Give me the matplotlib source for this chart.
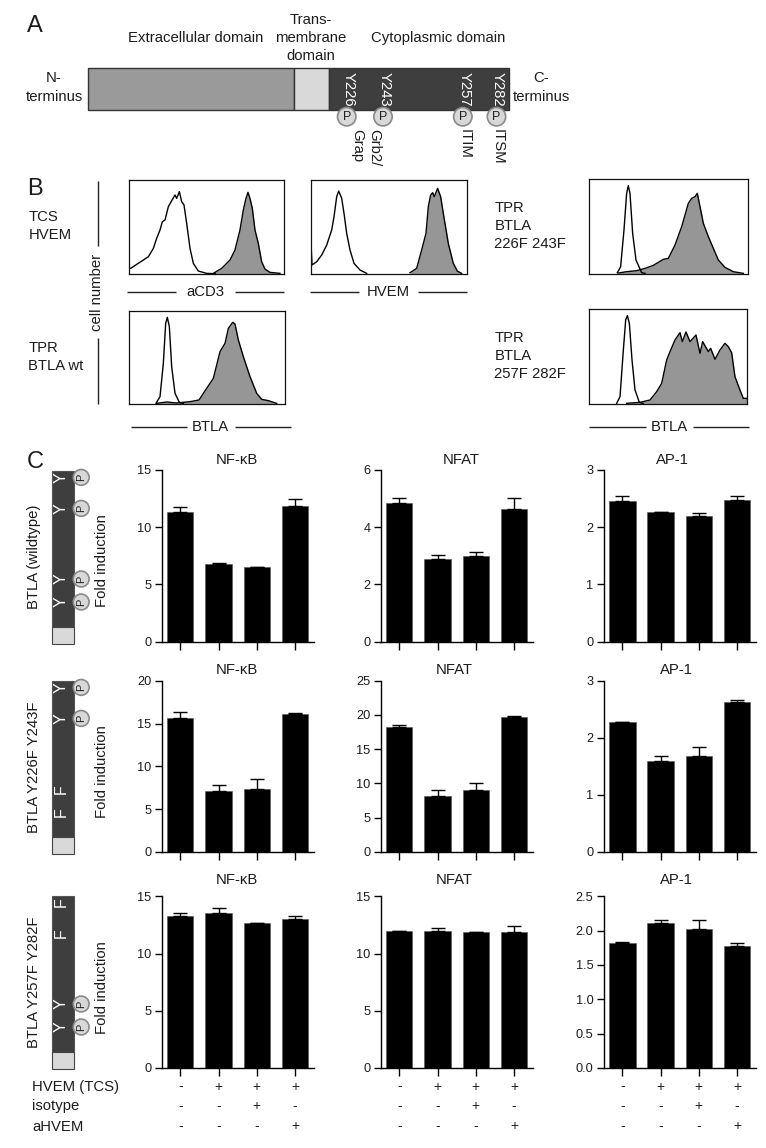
import numpy as np
import matplotlib
matplotlib.use("Agg")
import matplotlib.pyplot as plt
from matplotlib.patches import Rectangle, Circle

plt.rcParams['font.family'] = ['Liberation Sans', 'DejaVu Sans']
TXT = '#1c1c1c'
W, H = 766, 1148

# ---------- bar data ----------
nfkb_wt = [11.35, 6.75, 6.5, 11.85];   nfkb_wt_err = [0.45, 0.1, 0.05, 0.65]
nfat_wt = [4.83, 2.9, 3.0, 4.62];      nfat_wt_err = [0.19, 0.12, 0.13, 0.41]
ap1_wt = [2.45, 2.26, 2.19, 2.47];     ap1_wt_err = [0.09, 0.01, 0.06, 0.07]
nfkb_yy = [15.7, 7.1, 7.35, 16.15];    nfkb_yy_err = [0.6, 0.7, 1.15, 0.05]
nfat_yy = [18.2, 8.1, 9.0, 19.7];      nfat_yy_err = [0.3, 0.9, 1.1, 0.15]
ap1_yy = [2.28, 1.6, 1.69, 2.63];      ap1_yy_err = [0.0, 0.08, 0.15, 0.03]
nfkb_ff = [13.3, 13.5, 12.65, 13.0];   nfkb_ff_err = [0.2, 0.45, 0.05, 0.3]
nfat_ff = [11.95, 11.95, 11.85, 11.85]; nfat_ff_err = [0.02, 0.25, 0.05, 0.55]
ap1_ff = [1.82, 2.11, 2.03, 1.77];     ap1_ff_err = [0.01, 0.05, 0.12, 0.05]

hvem_tcs = ['-', '+', '+', '+']
isotype = ['-', '-', '+', '-']
ahvem = ['-', '-', '-', '+']

# ---------- histogram data (channel, count) ----------
h1_open = [(1,110),(2,16),(6,16),(24,28),(44,41),(59,51),(74,76),(84,106),(94,131),(101,156),(109,161),(119,201),(129,219),(139,236),(144,226),(152,246),(159,216),(166,206),(174,151),(184,76),(194,31),(209,8),(234,1),(260,0)]
h1_fill = [(254,1),(279,16),(304,41),(319,71),(334,131),(344,191),(352,226),(358,244),(364,226),(371,196),(379,131),(389,91),(399,36),(409,14),(424,4),(454,1)]
h2_open = [(1,90),(4,26),(18,36),(33,56),(48,86),(63,131),(70,171),(78,231),(84,248),(93,226),(100,181),(108,121),(118,71),(130,31),(148,11),(168,1)]
h2_fill = [(298,3),(318,16),(333,71),(346,121),(353,201),(360,236),(366,243),(371,231),(381,256),(390,231),(398,181),(413,91),(428,31),(440,8),(453,1)]
h3_open = [(81,2),(93,22),(103,122),(110,242),(115,260),(121,232),(128,112),(138,32),(151,5),(163,1)]
h3_fill = [(83,2),(113,6),(143,3),(183,7),(210,12),(223,32),(253,77),(273,157),(288,182),(298,227),(311,245),(318,240),(328,192),(343,142),(363,82),(383,32),(398,14),(418,10),(443,2)]
h4_open = [(84,3),(94,21),(104,131),(112,241),(117,264),(122,241),(130,121),(140,41),(157,3),(167,1)]
h4_fill = [(87,2),(112,6),(142,9),(167,16),(192,25),(222,43),(237,46),(257,86),(277,141),(297,211),(307,226),(317,231),(324,241),(332,201),(342,151),(357,111),(372,76),(387,41),(407,19),(432,6),(462,1)]
h5_open = [(84,2),(94,22),(104,162),(111,252),(116,265),(122,242),(130,132),(139,42),(152,5),(164,1)]
h5_fill = [(114,2),(154,5),(184,12),(204,37),(219,62),(234,132),(244,157),(259,192),(274,214),(281,187),(292,216),(304,187),(322,207),(334,152),(342,187),(359,157),(366,167),(379,134),(394,162),(409,182),(419,172),(429,154),(439,82),(454,42),(464,17),(474,17)]

fig = plt.figure(figsize=(W / 100, H / 100), dpi=100, facecolor='white')


def px_axes(x0, x1, y0, y1):
    """Axes with pixel box: x0..x1, top y0 .. bottom y1."""
    return fig.add_axes([x0 / W, 1 - y1 / H, (x1 - x0) / W, (y1 - y0) / H])


# ---------- histograms ----------
def hist(box, xmax, ymax, opened, filled):
    ax = px_axes(*box)
    fx, fy = np.array(filled).T
    ox, oy = np.array(opened).T
    ax.fill_between(fx, fy, 0, color='#969696', lw=0)
    ax.plot(fx, fy, color='black', lw=1.0)
    ax.plot(ox, oy, color='black', lw=1.0)
    ax.set_xlim(0, xmax)
    ax.set_ylim(0, ymax)
    ax.set_xticks([])
    ax.set_yticks([])
    for s in ax.spines.values():
        s.set_linewidth(0.9)
        s.set_color('#111111')


hist((128.7, 284.3, 180, 273.7), 467, 281, h1_open, h1_fill)
hist((310.7, 467.3, 180, 273.7), 470, 281, h2_open, h2_fill)
hist((129, 284.7, 311, 404), 467, 279, h3_open, h3_fill)
hist((589.3, 747.7, 179, 273.7), 475, 284, h4_open, h4_fill)
hist((588.7, 747.3, 309.3, 404), 476, 284, h5_open, h5_fill)

# ---------- bars ----------
rows = [(470, 641.7), (680.7, 852), (896.3, 1068)]
cols = [161.7, 380.7, 603.8]
tick_sets = {
    (0, 0): ([0, 5, 10, 15], ['0', '5', '10', '15']),
    (0, 1): ([0, 2, 4, 6], ['0', '2', '4', '6']),
    (0, 2): ([0, 1, 2, 3], ['0', '1', '2', '3']),
    (1, 0): ([0, 5, 10, 15, 20], ['0', '5', '10', '15', '20']),
    (1, 1): ([0, 5, 10, 15, 20, 25], ['0', '5', '10', '15', '20', '25']),
    (1, 2): ([0, 1, 2, 3], ['0', '1', '2', '3']),
    (2, 0): ([0, 5, 10, 15], ['0', '5', '10', '15']),
    (2, 1): ([0, 5, 10, 15], ['0', '5', '10', '15']),
    (2, 2): ([0, 0.5, 1, 1.5, 2, 2.5], ['0.0', '0.5', '1.0', '1.5', '2.0', '2.5']),
}
series = {
    (0, 0): (nfkb_wt, nfkb_wt_err), (0, 1): (nfat_wt, nfat_wt_err), (0, 2): (ap1_wt, ap1_wt_err),
    (1, 0): (nfkb_yy, nfkb_yy_err), (1, 1): (nfat_yy, nfat_yy_err), (1, 2): (ap1_yy, ap1_yy_err),
    (2, 0): (nfkb_ff, nfkb_ff_err), (2, 1): (nfat_ff, nfat_ff_err), (2, 2): (ap1_ff, ap1_ff_err),
}
positions = [0, 1, 2, 3]
for (r, c), (vals, errs) in series.items():
    top, bot = rows[r]
    ax = px_axes(cols[c], cols[c] + 151.8, top, bot)
    ax.patch.set_alpha(0)
    ax.bar(positions, vals, width=0.69, color='black', edgecolor='#555555', linewidth=0.4)
    ax.errorbar(positions, vals, yerr=[[0] * 4, errs], fmt='none', ecolor='black',
                elinewidth=1.0, capsize=4.8, capthick=1.0)
    ticks, labels = tick_sets[(r, c)]
    ax.set_xlim(-0.487, 3.487)
    ax.set_ylim(0, ticks[-1])
    ax.set_yticks(ticks)
    ax.set_yticklabels(labels, fontsize=9.2, color=TXT)
    ax.set_xticks(positions)
    ax.set_xticklabels([])
    ax.tick_params(axis='both', length=5.4, width=1.0, color='black', pad=2)
    for s in ('top', 'right'):
        ax.spines[s].set_visible(False)
    for s in ('left', 'bottom'):
        ax.spines[s].set_linewidth(1.0)

# ---------- overlay in pixel coordinates ----------
ov = fig.add_axes([0, 0, 1, 1], zorder=10)
ov.set_xlim(0, W)
ov.set_ylim(H, 0)
ov.axis('off')


def T(x, y, s, size=10.7, ha='center', va='center', rot=0, color=TXT):
    ov.text(x, y, s, fontsize=size, ha=ha, va=va, rotation=rot, color=color)


def L(x0, y0, x1, y1, lw=1.0, color='#222222'):
    ov.plot([x0, x1], [y0, y1], color=color, lw=lw, solid_capstyle='butt')


def pbubble(x, y, r, rot, size):
    ov.add_patch(Circle((x, y), r, fc='#d8d8d8', ec='#8a8a8a', lw=1.2, zorder=4))
    ov.text(x, y, 'P', fontsize=size, ha='center', va='center', rotation=rot, color='#222222', zorder=5)


# panel A
ov.add_patch(Rectangle((88, 67.5), 206.3, 42, fc='#9a9a9a', ec='#333333', lw=1.0))
ov.add_patch(Rectangle((294.3, 67.5), 34.2, 42, fc='#d9d9d9', ec='#333333', lw=1.0))
ov.add_patch(Rectangle((328.5, 67.5), 180, 42, fc='#3e3e3e', ec='#333333', lw=1.0))
T(27, 26, 'A', 17, ha='left')
T(195.5, 38.3, 'Extracellular domain')
T(311, 20.5, 'Trans-')
T(311, 38, 'membrane')
T(311, 56, 'domain')
T(438.5, 38.3, 'Cytoplasmic domain')
T(54, 78.5, 'N-')
T(54, 97, 'terminus')
T(541, 78.5, 'C-')
T(541, 97, 'terminus')
for x, s in [(348.7, 'Y226'), (384.3, 'Y243'), (464.3, 'Y257'), (498, 'Y282')]:
    T(x, 89, s, 10.7, rot=270, color='white')
for x in (346.7, 383, 462.8, 496.5):
    pbubble(x, 116.7, 9.2, 0, 9)
T(357.5, 129, 'Grap', va='top', rot=270)
T(374.5, 129, 'Grb2/', va='top', rot=270)
T(464.3, 129, 'ITIM', va='top', rot=270)
T(497.3, 129, 'ITSM', va='top', rot=270)

# panel B
T(27, 189, 'B', 17, ha='left')
T(28.3, 217, 'TCS', ha='left')
T(28.3, 235, 'HVEM', ha='left')
T(28.3, 348, 'TPR', ha='left')
T(28.3, 366, 'BTLA wt', ha='left')
L(98.3, 181, 98.3, 246)
L(98.3, 338, 98.3, 404)
T(97.3, 292.5, 'cell number', rot=90)
L(127, 292.3, 176, 292.3)
T(205.3, 292.3, 'aCD3')
L(234.7, 292.3, 284, 292.3)
L(310.3, 292.3, 359.3, 292.3)
T(388.7, 292.3, 'HVEM')
L(418, 292.3, 467.3, 292.3)
L(131, 427.3, 186.7, 427.3)
T(210.7, 427, 'BTLA')
L(235.3, 427.3, 291, 427.3)
L(589.3, 427.3, 645.7, 427.3)
T(669, 427, 'BTLA')
L(693.3, 427.3, 749.3, 427.3)
for y, s in [(207.7, 'TPR'), (225.7, 'BTLA'), (244, '226F 243F'),
             (337.7, 'TPR'), (356, 'BTLA'), (374.3, '257F 282F')]:
    T(494.3, y, s, ha='left')

# panel C
T(27, 462, 'C', 17, ha='left')
schem_tops = [470.7, 680.7, 895.7]
schem_marks = [['Y', 'Y', 'Y', 'Y'], ['Y', 'Y', 'F', 'F'], ['F', 'F', 'Y', 'Y']]
mark_off = [6.7, 37.7, 108.3, 131.3]
for top, marks in zip(schem_tops, schem_marks):
    ov.add_patch(Rectangle((52.3, top), 21.3, 156, fc='#3e3e3e', ec='#555555', lw=0.8))
    ov.add_patch(Rectangle((52.3, top + 156), 21.3, 17, fc='#d9d9d9', ec='#444444', lw=0.8))
    for m, off in zip(marks, mark_off):
        T(61.5, top + off, m, 11.5, rot=90, color='white')
        if m == 'Y':
            pbubble(81.2, top + off, 7.9, 90, 8)

for y, s in [(556.7, 'BTLA (wildtype)'), (767, 'BTLA Y226F Y243F'), (982.5, 'BTLA Y257F Y282F')]:
    T(34.3, y, s, rot=90)
for y in (561, 771.7, 987.3):
    T(101.7, y, 'Fold induction', rot=90)

title_pos = [
    (237.3, 460, 'NF-κB'), (461.3, 460, 'NFAT'), (672.3, 460, 'AP-1'),
    (237.3, 670, 'NF-κB'), (454, 670, 'NFAT'), (676.7, 670, 'AP-1'),
    (237.3, 880, 'NF-κB'), (454, 880, 'NFAT'), (676.7, 880, 'AP-1'),
]
for x, y, s in title_pos:
    T(x, y, s, 10.7)

# treatment table
T(32.3, 1086.7, 'HVEM (TCS)', ha='left')
T(32.3, 1106, 'isotype', ha='left')
T(32.3, 1126.7, 'aHVEM', ha='left')
for c, left in enumerate(cols):
    for y, signs in [(1086.5, hvem_tcs), (1106, isotype), (1126, ahvem)]:
        for p, s in zip(positions, signs):
            T(left + 18.6 + p * 38.2, y, s, 10, color='#222222')

fig.savefig('out.png', dpi=100)
